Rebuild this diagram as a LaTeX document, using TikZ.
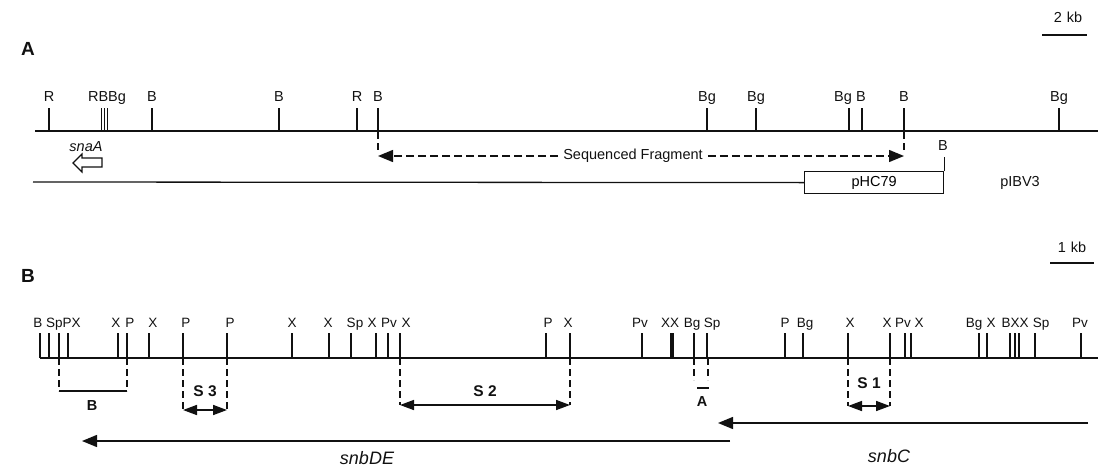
\documentclass[tikz,border=0pt]{standalone}
\usepackage{fontspec}
\setsansfont{Liberation Sans}
\usetikzlibrary{arrows.meta}
\definecolor{mapInk}{HTML}{111111}
\tikzset{
  map line/.style={draw=mapInk, line width=1.7pt},
  map tick/.style={draw=mapInk, line width=1.5pt},
  map guide/.style={draw=mapInk, line width=1.4pt, dash pattern=on 7pt off 4pt},
  map arrow/.style={draw=mapInk, line width=1.4pt, -{Triangle[length=15pt,width=12pt]}},
  map span/.style={draw=mapInk, line width=1.6pt, {Triangle[length=14pt,width=10pt]}-{Triangle[length=14pt,width=10pt]}},
  map site/.style={font=\sffamily\fontsize{14.5}{14.5}\selectfont, text=mapInk, inner sep=0pt, anchor=base},
  map small site/.style={map site, font=\sffamily\fontsize{13.5}{13.5}\selectfont},
  map tag/.style={map site, font=\sffamily\bfseries\fontsize{15.5}{15.5}\selectfont},
  map gene/.style={map site, font=\sffamily\itshape\fontsize{18}{18}\selectfont},
  map panel/.style={map site, font=\sffamily\bfseries\fontsize{19}{19}\selectfont},
}
\begin{document}
\begin{tikzpicture}[x=1pt,y=-1pt]
\useasboundingbox (0,0) rectangle (1098,469);
% panel A
\node[map panel] (pa) at (28,55) {A};
\draw[map line] (1042,35) -- (1087,35);
\node[map site] (kb2) at (1068,22) {2\hspace{5pt}kb};
\draw[map line] (35,131) -- (1098,131);
\foreach \x in {49,152,279,357,378,707,756,849,862,904,1059}{\draw[map tick] (\x,108) -- (\x,131);}
\foreach \x in {101.5,104.5,107.5}{\draw[map tick, line width=1pt] (\x,108) -- (\x,131);}
\foreach \x/\t [count=\i] in {49/R,107/RBBg,152/B,279/B,357/R,378/B,707/Bg,756/Bg,843/Bg,861/B,904/B,1059/Bg}{\node[map site] (sa\i) at (\x,101) {\t};}
% sequenced fragment
\coordinate (fragL) at (378,156);
\coordinate (fragR) at (904,156);
\draw[map guide, dash pattern=on 8pt off 4pt] (378,131) -- (378,150);
\draw[map guide, dash pattern=on 8pt off 4pt] (904,131) -- (904,150);
\node[map site, anchor=center, inner xsep=5pt] (seqfrag) at (633,156) {Sequenced Fragment};
\draw[map guide, dash pattern=on 8pt off 4pt, -{Triangle[length=15pt,width=12pt]}] (seqfrag.west) -- (fragL);
\draw[map guide, dash pattern=on 8pt off 4pt, -{Triangle[length=15pt,width=12pt]}] (seqfrag.east) -- (fragR);
% snaA
\node[map site, font=\sffamily\itshape\fontsize{14.5}{14.5}\selectfont] (snaA) at (86,151) {snaA};
\draw[map line, line width=1.2pt, fill=white] (73,163) -- (82,154) -- (82,158) -- (102,158) -- (102,167) -- (82,167) -- (82,172) -- cycle;
% vector
\node[draw=mapInk, line width=1.2pt, minimum width=139pt, minimum height=22pt, anchor=north west, inner sep=0pt,
  font=\sffamily\fontsize{14.5}{14.5}\selectfont] (pHC) at (804,171) {pHC79};
\draw[map line, line width=1.3pt] (33,182) -- (pHC.west);
\draw[map tick, line width=1.3pt] (pHC.north east) -- ++(0,-14) coordinate (bvec);
\node[map site] (bv) at (943,150) {B};
\node[map site] (pIBV) at (1020,186) {pIBV3};
% panel B
\node[map panel] (pb) at (28,282) {B};
\draw[map line] (1050,263) -- (1094,263);
\node[map site] (kb1) at (1072,252) {1\hspace{5pt}kb};
\draw[map line] (40,358) -- (1098,358);
\foreach \x in {40,49,59,68,118,127,149,183,227,292,329,351,376,388,400,546,570,642,671,673,694,707,785,803,848,890,905,911,979,987,1010,1015,1019,1035,1081}{\draw[map tick] (\x,333) -- (\x,358);}
\foreach \x/\t [count=\i] in {57/B SpPX,116/X,130/P,153/X,186/P,230/P,292/X,328/X,355/Sp,372/X,389/Pv,406/X,548/P,568/X,640/Pv,670/XX,692/Bg,712/Sp,785/P,805/Bg,850/X,887/X,903/Pv,919/X,974/Bg,991/X,1015/BXX,1041/Sp,1080/Pv}{\node[map small site] (sb\i) at (\x,327) {\t};}
% probe B
\draw[map guide] (59,358) -- (59,391);
\draw[map guide] (127,358) -- (127,391);
\coordinate (brL) at (59,391);
\coordinate (brR) at (127,391);
\draw[map tick, line width=1.2pt] (brL) -- (brR);
\node[map tag, font=\sffamily\bfseries\fontsize{14.5}{14.5}\selectfont] (prB) at (92,410) {B};
% subclones
\foreach \l/\r/\ay/\ty/\s in {183/227/410/396/3,400/570/405/396/2,848/890/406/388/1}{
  \draw[map guide] (\l,358) -- (\l,\ay);
  \draw[map guide] (\r,358) -- (\r,\ay);
  \coordinate (s\s L) at (\l,\ay);
  \coordinate (s\s R) at (\r,\ay);
  \draw[map span] (s\s L) -- (s\s R);
  \node[map tag] (s\s) at ({(\l+\r)/2},\ty) {S \s};
}
% probe A
\draw[map guide] (694,358) -- (694,380);
\draw[map guide] (708,358) -- (708,380);
\coordinate (prAL) at (697,388);
\coordinate (prAR) at (709,388);
\draw[map tick, line width=1.2pt] (prAL) -- (prAR);
\node[map tag, font=\sffamily\bfseries\fontsize{14.5}{14.5}\selectfont] (prA) at (702,406) {A};
% genes
\coordinate (cR) at (1088,423);
\coordinate (cL) at (718,423);
\draw[map arrow] (cR) -- (cL);
\node[map gene] (snbC) at (889,462) {snbC};
\coordinate (deR) at (730,441);
\coordinate (deL) at (82,441);
\draw[map arrow] (deR) -- (deL);
\node[map gene] (snbDE) at (367,464) {snbDE};
\end{tikzpicture}
\end{document}
